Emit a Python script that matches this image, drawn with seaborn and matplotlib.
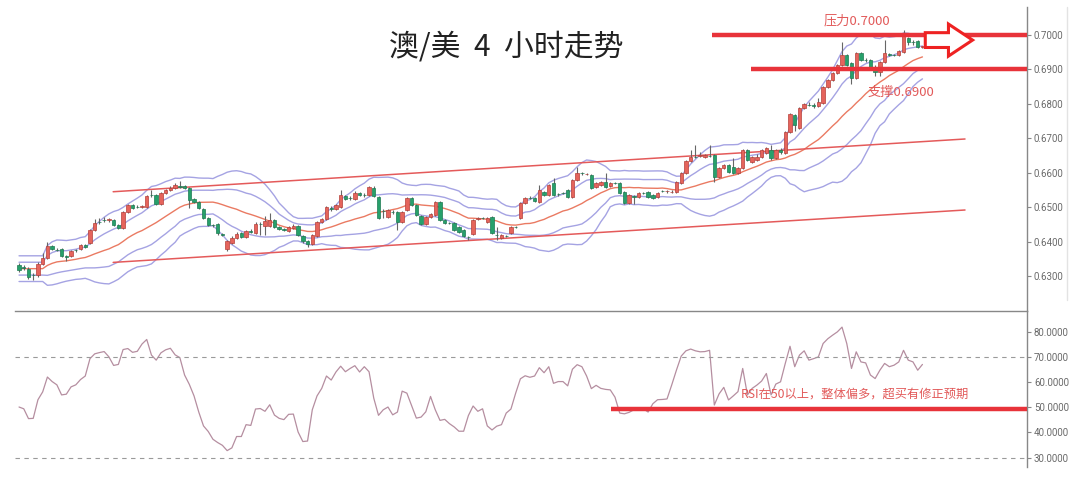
import numpy as np
import pandas as pd
import matplotlib
matplotlib.use('Agg')
import matplotlib.pyplot as plt
import seaborn as sns
from matplotlib.patches import FancyArrow
from matplotlib.ticker import FormatStrFormatter
from matplotlib.lines import Line2D

# AUD/USD 4h candles
open_ = [
    0.6333, 0.6327, 0.6321, 0.6304, 0.6304, 0.6335, 0.6353, 0.6388, 0.6376, 0.6379,
    0.6359, 0.6359, 0.6376, 0.6379, 0.6391, 0.6396, 0.6434, 0.6457, 0.6463, 0.6463,
    0.6463, 0.6449, 0.6440, 0.6486, 0.6507, 0.6501, 0.6501, 0.6501, 0.6536, 0.6536,
    0.6509, 0.6541, 0.6550, 0.6556, 0.6562, 0.6562, 0.6556, 0.6524, 0.6515, 0.6495,
    0.6469, 0.6449, 0.6451, 0.6422, 0.6379, 0.6396, 0.6411, 0.6425, 0.6414, 0.6431,
    0.6425, 0.6451, 0.6446, 0.6446, 0.6463, 0.6443, 0.6437, 0.6431, 0.6440, 0.6446,
    0.6417, 0.6402, 0.6393, 0.6417, 0.6457, 0.6466, 0.6498, 0.6495, 0.6501, 0.6533,
    0.6527, 0.6524, 0.6541, 0.6536, 0.6536, 0.6556, 0.6530, 0.6489, 0.6472, 0.6486,
    0.6486, 0.6457, 0.6492, 0.6527, 0.6507, 0.6475, 0.6451, 0.6472, 0.6478, 0.6515,
    0.6463, 0.6454, 0.6454, 0.6443, 0.6434, 0.6414, 0.6422, 0.6466, 0.6469, 0.6457,
    0.6472, 0.6420, 0.6411, 0.6417, 0.6425, 0.6443, 0.6469, 0.6512, 0.6527, 0.6527,
    0.6515, 0.6544, 0.6536, 0.6570, 0.6538, 0.6541, 0.6550, 0.6530, 0.6579, 0.6599,
    0.6596, 0.6594, 0.6559, 0.6565, 0.6573, 0.6562, 0.6570, 0.6570, 0.6544, 0.6512,
    0.6533, 0.6530, 0.6541, 0.6544, 0.6536, 0.6530, 0.6547, 0.6547, 0.6544, 0.6544,
    0.6570, 0.6599, 0.6634, 0.6646, 0.6649, 0.6646, 0.6649, 0.6652, 0.6588, 0.6614,
    0.6623, 0.6617, 0.6599, 0.6614, 0.6666, 0.6631, 0.6637, 0.6646, 0.6657, 0.6666,
    0.6643, 0.6666, 0.6657, 0.6718, 0.6768, 0.6730, 0.6788, 0.6797, 0.6797, 0.6794,
    0.6802, 0.6849, 0.6869, 0.6889, 0.6913, 0.6942, 0.6918, 0.6875, 0.6947, 0.6927,
    0.6927, 0.6907, 0.6892, 0.6921, 0.6944, 0.6942, 0.6942, 0.6950, 0.6991, 0.6979,
    0.6982, 0.6965,
]
close = [
    0.6318, 0.6324, 0.6298, 0.6303, 0.6335, 0.6353, 0.6388, 0.6379, 0.6375, 0.6359,
    0.6357, 0.6373, 0.6375, 0.6391, 0.6385, 0.6434, 0.6454, 0.6456, 0.6462, 0.6464,
    0.6449, 0.6440, 0.6486, 0.6507, 0.6498, 0.6500, 0.6502, 0.6533, 0.6535, 0.6509,
    0.6541, 0.6550, 0.6556, 0.6565, 0.6559, 0.6556, 0.6521, 0.6515, 0.6498, 0.6469,
    0.6449, 0.6448, 0.6425, 0.6420, 0.6402, 0.6411, 0.6422, 0.6414, 0.6431, 0.6429,
    0.6451, 0.6450, 0.6460, 0.6463, 0.6443, 0.6437, 0.6435, 0.6443, 0.6446, 0.6420,
    0.6402, 0.6393, 0.6420, 0.6457, 0.6466, 0.6501, 0.6495, 0.6507, 0.6536, 0.6524,
    0.6526, 0.6541, 0.6536, 0.6535, 0.6559, 0.6533, 0.6469, 0.6488, 0.6492, 0.6485,
    0.6457, 0.6486, 0.6527, 0.6507, 0.6478, 0.6451, 0.6472, 0.6480, 0.6515, 0.6463,
    0.6454, 0.6453, 0.6434, 0.6428, 0.6417, 0.6413, 0.6463, 0.6469, 0.6468, 0.6469,
    0.6425, 0.6419, 0.6420, 0.6416, 0.6443, 0.6442, 0.6512, 0.6527, 0.6526, 0.6518,
    0.6550, 0.6536, 0.6565, 0.6536, 0.6537, 0.6540, 0.6530, 0.6579, 0.6599, 0.6598,
    0.6597, 0.6556, 0.6570, 0.6573, 0.6559, 0.6570, 0.6569, 0.6541, 0.6512, 0.6536,
    0.6530, 0.6541, 0.6540, 0.6530, 0.6527, 0.6541, 0.6546, 0.6548, 0.6545, 0.6573,
    0.6599, 0.6634, 0.6646, 0.6645, 0.6652, 0.6652, 0.6648, 0.6588, 0.6614, 0.6623,
    0.6602, 0.6599, 0.6614, 0.6666, 0.6637, 0.6646, 0.6646, 0.6666, 0.6672, 0.6643,
    0.6666, 0.6660, 0.6718, 0.6770, 0.6739, 0.6788, 0.6799, 0.6796, 0.6794, 0.6805,
    0.6849, 0.6869, 0.6889, 0.6913, 0.6942, 0.6913, 0.6875, 0.6947, 0.6927, 0.6926,
    0.6907, 0.6892, 0.6921, 0.6947, 0.6942, 0.6941, 0.6953, 0.7000, 0.6979, 0.6978,
    0.6965, 0.6966,
]
high = [
    0.6338, 0.6333, 0.6327, 0.6309, 0.6341, 0.6367, 0.6399, 0.6391, 0.6382, 0.6382,
    0.6362, 0.6376, 0.6379, 0.6393, 0.6393, 0.6437, 0.6466, 0.6469, 0.6472, 0.6469,
    0.6466, 0.6451, 0.6489, 0.6509, 0.6509, 0.6507, 0.6507, 0.6536, 0.6550, 0.6538,
    0.6544, 0.6553, 0.6562, 0.6570, 0.6576, 0.6565, 0.6559, 0.6527, 0.6518, 0.6498,
    0.6472, 0.6451, 0.6454, 0.6425, 0.6405, 0.6417, 0.6428, 0.6428, 0.6434, 0.6437,
    0.6457, 0.6457, 0.6475, 0.6483, 0.6466, 0.6446, 0.6440, 0.6446, 0.6451, 0.6449,
    0.6420, 0.6405, 0.6422, 0.6460, 0.6469, 0.6504, 0.6504, 0.6509, 0.6550, 0.6536,
    0.6533, 0.6547, 0.6544, 0.6541, 0.6562, 0.6562, 0.6533, 0.6495, 0.6495, 0.6492,
    0.6489, 0.6489, 0.6530, 0.6530, 0.6509, 0.6478, 0.6475, 0.6483, 0.6518, 0.6518,
    0.6466, 0.6457, 0.6457, 0.6446, 0.6437, 0.6417, 0.6466, 0.6472, 0.6472, 0.6472,
    0.6475, 0.6443, 0.6422, 0.6420, 0.6446, 0.6446, 0.6515, 0.6530, 0.6533, 0.6530,
    0.6565, 0.6547, 0.6567, 0.6585, 0.6541, 0.6544, 0.6553, 0.6582, 0.6617, 0.6602,
    0.6599, 0.6596, 0.6573, 0.6576, 0.6599, 0.6573, 0.6573, 0.6573, 0.6547, 0.6538,
    0.6536, 0.6544, 0.6544, 0.6547, 0.6538, 0.6544, 0.6550, 0.6550, 0.6550, 0.6576,
    0.6602, 0.6637, 0.6666, 0.6681, 0.6660, 0.6654, 0.6681, 0.6654, 0.6617, 0.6625,
    0.6625, 0.6643, 0.6617, 0.6669, 0.6669, 0.6649, 0.6654, 0.6669, 0.6675, 0.6681,
    0.6669, 0.6672, 0.6721, 0.6773, 0.6770, 0.6791, 0.6802, 0.6805, 0.6802, 0.6817,
    0.6852, 0.6872, 0.6892, 0.6915, 0.6979, 0.6944, 0.6921, 0.6950, 0.6950, 0.6933,
    0.6930, 0.6913, 0.6924, 0.6985, 0.6947, 0.6944, 0.6956, 0.7014, 0.6994, 0.6985,
    0.6985, 0.6968,
]
low = [
    0.6312, 0.6318, 0.6292, 0.6289, 0.6298, 0.6333, 0.6350, 0.6376, 0.6373, 0.6356,
    0.6344, 0.6356, 0.6370, 0.6376, 0.6382, 0.6393, 0.6431, 0.6451, 0.6457, 0.6457,
    0.6446, 0.6437, 0.6437, 0.6483, 0.6495, 0.6498, 0.6498, 0.6498, 0.6530, 0.6507,
    0.6507, 0.6538, 0.6547, 0.6553, 0.6556, 0.6553, 0.6498, 0.6512, 0.6495, 0.6466,
    0.6446, 0.6443, 0.6420, 0.6417, 0.6373, 0.6393, 0.6408, 0.6411, 0.6411, 0.6425,
    0.6422, 0.6420, 0.6420, 0.6443, 0.6440, 0.6434, 0.6431, 0.6428, 0.6437, 0.6417,
    0.6396, 0.6385, 0.6391, 0.6414, 0.6454, 0.6463, 0.6489, 0.6492, 0.6498, 0.6521,
    0.6521, 0.6521, 0.6533, 0.6530, 0.6533, 0.6530, 0.6466, 0.6469, 0.6469, 0.6480,
    0.6434, 0.6454, 0.6489, 0.6504, 0.6475, 0.6449, 0.6449, 0.6469, 0.6475, 0.6460,
    0.6451, 0.6451, 0.6431, 0.6425, 0.6414, 0.6405, 0.6420, 0.6464, 0.6466, 0.6454,
    0.6422, 0.6405, 0.6408, 0.6414, 0.6422, 0.6440, 0.6466, 0.6509, 0.6524, 0.6515,
    0.6512, 0.6533, 0.6533, 0.6533, 0.6533, 0.6538, 0.6527, 0.6527, 0.6576, 0.6594,
    0.6594, 0.6553, 0.6556, 0.6562, 0.6556, 0.6559, 0.6567, 0.6538, 0.6509, 0.6509,
    0.6509, 0.6527, 0.6538, 0.6527, 0.6524, 0.6527, 0.6544, 0.6541, 0.6541, 0.6541,
    0.6567, 0.6596, 0.6631, 0.6643, 0.6646, 0.6643, 0.6646, 0.6573, 0.6585, 0.6611,
    0.6599, 0.6596, 0.6596, 0.6611, 0.6634, 0.6628, 0.6634, 0.6643, 0.6654, 0.6637,
    0.6640, 0.6654, 0.6654, 0.6715, 0.6721, 0.6727, 0.6785, 0.6794, 0.6788, 0.6791,
    0.6799, 0.6846, 0.6866, 0.6886, 0.6910, 0.6910, 0.6857, 0.6872, 0.6924, 0.6921,
    0.6904, 0.6881, 0.6881, 0.6918, 0.6939, 0.6939, 0.6939, 0.6947, 0.6971, 0.6971,
    0.6962, 0.6962,
]

# RSI values, one per candle
rsi = [
    50.1, 49.4, 45.5, 45.6, 53.0, 56.1, 62.0, 60.2, 58.9, 54.9,
    55.2, 58.1, 58.9, 61.0, 62.4, 69.3, 71.2, 71.7, 72.1, 70.0,
    66.6, 67.0, 72.9, 73.3, 71.8, 72.2, 75.1, 76.9, 70.7, 68.7,
    71.6, 72.8, 73.4, 70.8, 69.7, 62.8, 59.1, 54.5, 48.1, 42.6,
    40.4, 37.3, 36.0, 34.9, 32.8, 33.9, 38.4, 38.4, 43.1, 42.8,
    49.3, 49.5, 48.4, 51.0, 46.9, 45.6, 45.1, 47.2, 47.3, 40.2,
    36.4, 36.6, 49.0, 54.5, 57.5, 62.4, 60.8, 64.0, 66.3, 64.1,
    65.4, 66.5, 64.0, 66.1, 64.1, 53.6, 46.8, 49.0, 50.1, 47.0,
    48.1, 56.4, 55.6, 50.6, 45.7, 46.1, 48.2, 54.3, 49.0, 44.8,
    45.2, 43.5, 42.2, 40.5, 40.5, 46.7, 50.5, 48.4, 49.4, 42.6,
    41.0, 42.5, 43.1, 47.7, 49.3, 55.6, 61.3, 62.5, 61.9, 62.4,
    65.7, 63.7, 66.1, 59.5, 60.2, 60.2, 58.5, 65.1, 66.9, 66.1,
    62.4, 57.4, 58.7, 57.5, 57.1, 56.9, 54.0, 47.7, 47.4, 48.0,
    49.0, 49.7, 49.4, 48.1, 51.4, 53.0, 53.1, 53.3, 58.9, 64.8,
    70.3, 72.4, 73.1, 72.4, 72.0, 72.1, 72.6, 50.9, 55.3, 57.9,
    52.9, 54.5, 56.2, 65.4, 54.9, 57.5, 58.8, 60.4, 63.4, 54.9,
    59.2, 60.1, 67.4, 74.2, 66.1, 70.7, 72.4, 68.7, 69.3, 70.0,
    75.3, 77.2, 78.6, 79.9, 81.8, 75.3, 65.4, 72.0, 68.0, 67.6,
    62.8, 61.4, 64.7, 67.4, 66.1, 66.7, 68.0, 72.6, 68.7, 68.0,
    64.7, 67.0,
]

# annotations drawn on the chart
resist_level, resist_from = 0.7000, 146.5
support_level, support_from = 0.6900, 154.8
chan_x = [19.9, 200.0]
chan_upper = [0.6545, 0.6698]
chan_lower = [0.6340, 0.6492]
rsi_mark_level, rsi_mark_from = 49.2, 125.1
price_ticks = [0.63, 0.64, 0.65, 0.66, 0.67, 0.68, 0.69, 0.70]
rsi_ticks = [30, 40, 50, 60, 70, 80]

sns.set_theme(style='white')
plt.rcParams['font.family'] = ['Noto Sans CJK SC', 'DejaVu Sans']

XMIN, XMAX = -0.85, 213.1
RED = '#e8333a'
UP_FACE, UP_EDGE = '#e5645c', '#b5403a'
DN_FACE, DN_EDGE = '#27a06b', '#1d7a52'
BAND = '#a5a3e3'
MID = '#ea7a62'

fig = plt.figure(figsize=(10.8, 4.92), dpi=100)
ax = fig.add_axes([0.0139, 0.3679, 0.937, 0.6179])
ax2 = fig.add_axes([0.0139, 0.0508, 0.937, 0.3171])

df = pd.DataFrame({'open': open_, 'high': high, 'low': low, 'close': close})
df['x'] = np.arange(len(df))

# bollinger bands (20) on closes
roll = df['close'].rolling(20, min_periods=6)
mid = roll.mean().bfill()
sd = roll.std(ddof=0).bfill()
for k in (-2, -1, 1, 2):
    sns.lineplot(x=df['x'], y=mid + k * sd, ax=ax, color=BAND, lw=1.0, zorder=2)
sns.lineplot(x=df['x'], y=mid, ax=ax, color=MID, lw=1.0, zorder=2)

# candles
up = df['close'] >= df['open']
face = np.where(up, UP_FACE, DN_FACE)
edge = np.where(up, UP_EDGE, DN_EDGE)
ax.vlines(df['x'], df['low'], df['high'], colors='#666666', lw=0.8, zorder=3)
body_lo = df[['open', 'close']].min(axis=1)
body_h = (df['close'] - df['open']).abs().clip(lower=0.00015)
ax.bar(df['x'], body_h, bottom=body_lo, width=0.72, color=face,
       edgecolor=edge, linewidth=0.5, zorder=4)

# trend channel
ax.plot(chan_x, chan_upper, color='#e45a5a', lw=1.1, zorder=2)
ax.plot(chan_x, chan_lower, color='#e45a5a', lw=1.1, zorder=2)

# resistance / support
ax.hlines(resist_level, resist_from, XMAX, color=RED, lw=3.2, zorder=5)
ax.hlines(support_level, support_from, XMAX, color=RED, lw=3.2, zorder=5)
ax.text(177.2, 0.7040, '压力0.7000', color='#e25a5a', fontsize=9.5,
        ha='center', va='center')
ax.text(186.5, 0.6834, '支撑0.6900', color='#e25a5a', fontsize=9.5,
        ha='center', va='center')
ax.add_patch(FancyArrow(191.6, 0.6985, 10.0, 0.0, width=0.0043,
                        head_width=0.0093, head_length=5.1,
                        length_includes_head=True, facecolor='white',
                        edgecolor='#ee2222', lw=2.2, zorder=6))

ax.set_xlim(XMIN, XMAX)
ax.set_ylim(0.6199, 0.7081)
ax.set_yticks(price_ticks)
ax.yaxis.set_major_formatter(FormatStrFormatter('%.4f'))
ax.yaxis.tick_right()
ax.set_xticks([])
ax.set_xlabel('')
ax.set_ylabel('')
for s in ('top', 'left', 'bottom'):
    ax.spines[s].set_visible(False)
ax.spines['right'].set_color('#888888')
ax.spines['right'].set_linewidth(1.0)
ax.tick_params(axis='y', right=True, direction='out', length=3, width=0.8,
               color='#888888', labelcolor='#6a6a6a', labelsize=7.0, pad=2,
               labelfontfamily='Roboto')

# RSI panel
sns.lineplot(x=np.arange(len(rsi)), y=rsi, ax=ax2, color='#b58ea0', lw=0.9)
for lv in (70, 30):
    ax2.axhline(lv, color='#9a9a9a', lw=0.8, ls=(0, (4, 4)))
ax2.hlines(rsi_mark_level, rsi_mark_from, XMAX, color=RED, lw=3.2, zorder=5)
ax2.text(176.7, 55.3, 'RSI在50以上，整体偏多，超买有修正预期', color='#e25a5a',
         fontsize=8.8, ha='center', va='center')
ax2.set_xlim(XMIN, XMAX)
ax2.set_ylim(26.3, 88.2)
ax2.set_yticks(rsi_ticks)
ax2.yaxis.set_major_formatter(FormatStrFormatter('%.4f'))
ax2.yaxis.tick_right()
ax2.set_xticks([])
ax2.set_xlabel('')
ax2.set_ylabel('')
for s in ('left', 'bottom'):
    ax2.spines[s].set_visible(False)
for s in ('top', 'right'):
    ax2.spines[s].set_color('#888888')
    ax2.spines[s].set_linewidth(1.0)
ax2.tick_params(axis='y', right=True, direction='out', length=3, width=0.8,
                color='#888888', labelcolor='#6a6a6a', labelsize=7.0, pad=2,
                labelfontfamily='Roboto')

# faint separator at the far right
fig.add_artist(Line2D([1067 / 1080, 1067 / 1080], [1 - 7 / 492, 1 - 300 / 492],
                      color='#e3e3e3', lw=1.0))

fig.text(0.469, 0.904, '澳/美  4  小时走势', fontsize=21.5, color='#222222',
         ha='center', va='center')

fig.savefig('out.png', dpi=100)
